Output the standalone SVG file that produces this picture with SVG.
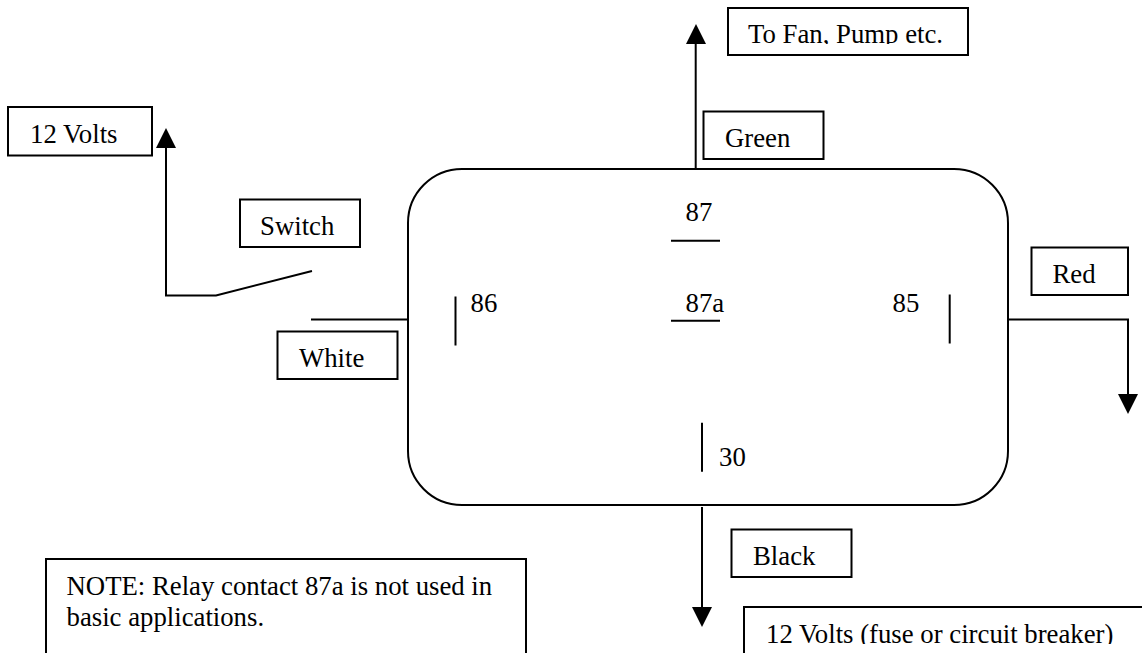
<svg xmlns="http://www.w3.org/2000/svg" width="1142" height="653" viewBox="0 0 1142 653">
<style>
.l{fill:none;stroke:#000;stroke-width:2}
.b{fill:#fff;stroke:#000;stroke-width:2}
.a{fill:#000;stroke:none}
text{font-family:"Liberation Serif","Times New Roman",serif;font-size:26.75px;fill:#000}
</style>
<defs>
<clipPath id="c1"><rect x="729" y="9" width="238" height="35"/></clipPath>
<clipPath id="c2"><rect x="745" y="608" width="397" height="36"/></clipPath>
</defs>
<rect width="1142" height="653" fill="#fff"/>
<g id="connectors">
<path class="l" d="M695.7 169V42"/><path class="a" d="M696 24L686 44H706Z"/>
<path class="l" d="M311 319.500H408"/>
<path class="l" d="M166 146V295.500H216L312 271"/><path class="a" d="M166 128L156 148H176Z"/>
<path class="l" d="M1008 319.500H1128V396"/><path class="a" d="M1128 414L1118 394H1138Z"/>
<path class="l" d="M702 507V609"/><path class="a" d="M702 627L692 607H712Z"/>
</g>
<g id="relay"><rect class="b" x="408" y="169" width="600" height="336" rx="54"/>
<path class="l" d="M671 240.700H720M671 320.700H720M455.500 296.500V345.500M949.700 294.500V343.500M702 422.700V471.700"/>
<text x="685.500" y="220.500">87</text><text x="685.500" y="312">87a</text><text x="470.500" y="311.700">86</text><text x="892.500" y="312">85</text><text x="719" y="465.500">30</text></g>
<g id="fan"><rect class="b" x="728" y="8" width="240" height="47"/><text x="748" y="43" clip-path="url(#c1)">To Fan, Pump etc.</text></g>
<g id="green"><rect class="b" x="703.500" y="111.500" width="120" height="47.500"/><text x="725" y="147">Green</text></g>
<g id="volts"><rect class="b" x="8" y="107" width="144" height="48.500"/><text x="30" y="143">12 Volts</text></g>
<g id="switch"><rect class="b" x="240" y="199.500" width="120" height="47.500"/><text x="260" y="235">Switch</text></g>
<g id="white"><rect class="b" x="277.500" y="331.500" width="120" height="47.500"/><text x="299" y="367">White</text></g>
<g id="red"><rect class="b" x="1031.500" y="247.500" width="96.500" height="47.500"/><text x="1052.500" y="283">Red</text></g>
<g id="black"><rect class="b" x="731.500" y="529.500" width="120" height="47.500"/><text x="753" y="565">Black</text></g>
<g id="note"><path class="b" d="M46 653V559H526V653"/><text x="66.500" y="595">NOTE: Relay contact 87a is not used in</text><text x="66.500" y="626">basic applications.</text></g>
<g id="breaker"><path class="b" d="M1142 607H744V653"/><text x="766" y="643" clip-path="url(#c2)">12 Volts (fuse or circuit breaker)</text></g>
</svg>
